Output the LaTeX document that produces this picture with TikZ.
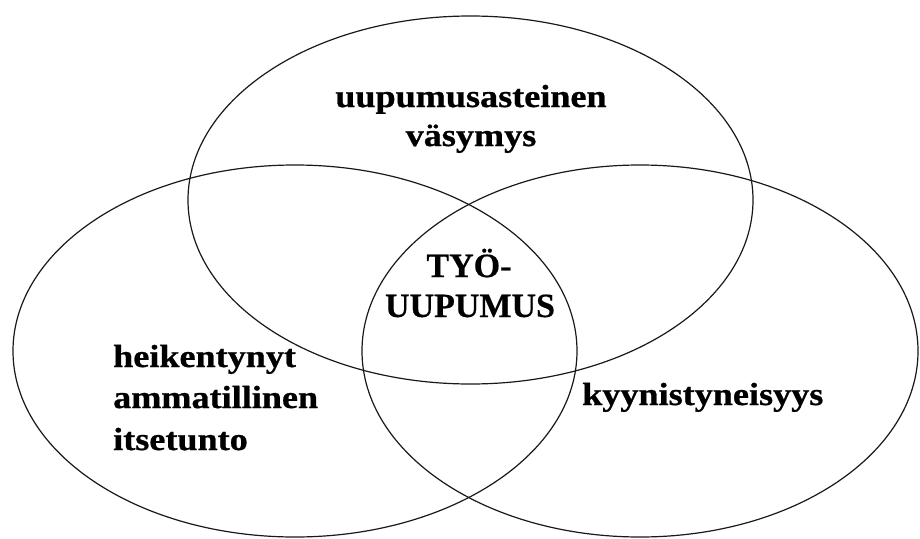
\documentclass[tikz,border=0pt]{standalone}
\usepackage{fontspec}
\setmainfont{Liberation Serif}
\newfontfamily\lowfont[FakeStretch=1.13,FakeBold=0.8]{Liberation Serif}
\newfontfamily\capfont[FakeBold=0.4]{Liberation Serif}
\begin{document}
\begin{tikzpicture}[x=1pt,y=-1pt,
  ring/.style={draw=black!90,line width=1.2pt},
  lowlbl/.style={inner sep=0pt,font=\lowfont\bfseries\fontsize{32}{38}\selectfont},
  caplbl/.style={inner sep=0pt,font=\capfont\bfseries\fontsize{34}{40}\selectfont}]
\useasboundingbox[fill=white] (0,0) rectangle (920,538);
% ellipses
\draw[ring] (470.5,200) ellipse [x radius=282.5pt, y radius=184pt];
\draw[ring] (295,351) ellipse [x radius=282pt, y radius=186pt];
\draw[ring] (640,351) ellipse [x radius=278pt, y radius=186pt];
% top label
\node[lowlbl,anchor=base] (t1) at (471,107) {uupumusasteinen};
\node[lowlbl,anchor=base] (t2) at (471,146) {väsymys};
% centre label
\node[caplbl,anchor=base] (c1) at (469,277) {TYÖ-};
\node[caplbl,anchor=base] (c2) at (470,317) {UUPUMUS};
% left label
\node[lowlbl,anchor=base west] (l1) at (113,367) {heikentynyt};
\node[lowlbl,anchor=base west] (l2) at (113,408) {ammatillinen};
\node[lowlbl,anchor=base west] (l3) at (113,450) {itsetunto};
% right label
\node[lowlbl,anchor=base west] (r1) at (582,405) {kyynistyneisyys};
\end{tikzpicture}
\end{document}
